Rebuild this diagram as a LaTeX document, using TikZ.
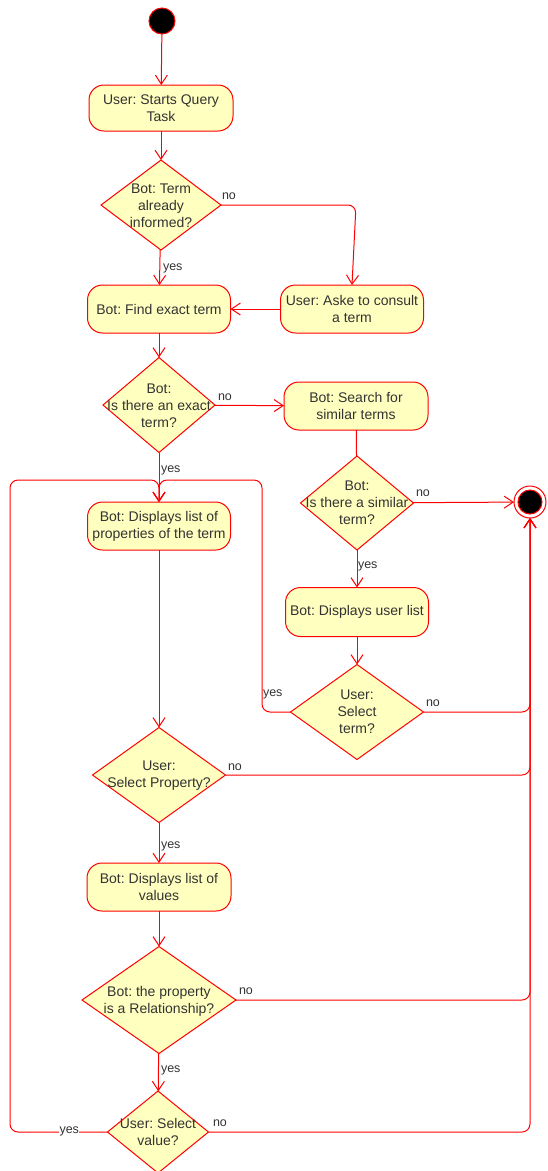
\documentclass[tikz,border=0pt]{standalone}
\usepackage{fontspec}
\setmainfont{Liberation Sans}
\usetikzlibrary{shapes.geometric,arrows.meta}
\definecolor{actfill}{HTML}{FFFFC0}
\definecolor{actline}{HTML}{FF0000}
\definecolor{ink}{HTML}{333333}
\frenchspacing

\begin{document}
\begin{tikzpicture}[x=1pt,y=-1pt,
  every node/.style={inner sep=0pt, outer sep=0pt},
  txt/.style={align=center, text=ink, font=\fontsize{14}{16.8}\selectfont},
  action/.style={txt, draw=actline, fill=actfill, line width=1pt,
    rounded corners=15pt, minimum width=144pt, minimum height=48pt},
  decision/.style={diamond, draw=actline, fill=actfill, line width=1pt},
  initial/.style={circle, draw=actline, fill=black, line width=1pt, minimum size=26pt},
  flow/.style={draw=actline, line width=1pt, rounded corners=8pt,
    -{Straight Barb[length=9pt,width=12pt,line width=1pt]}},
  link/.style={draw=actline, line width=1pt},
  guard/.style={text=ink, font=\fontsize{12.5}{15}\selectfont, anchor=west}]

\useasboundingbox (0,0) rectangle (548,1171);

% start and end states
\node[initial] (start) at (162,21) {};
\node[circle, draw=actline, fill=white, line width=1pt, minimum size=32pt] (end) at (530,502) {};
\node[circle, draw=actline, fill=black, line width=1pt, minimum size=24pt] (endin) at (end) {};

% actions
\node[action, minimum height=46pt] (startq) at (161,108) {User: Starts Query\\Task};
\node[action, minimum width=143pt] (find) at (159,309) {Bot: Find exact term};
\node[action, minimum width=143pt] (ask) at (352,309) {User: Aske to consult\\a term};
\node[action] (search) at (356,406) {Bot: Search for\\similar terms};
\node[action, minimum width=143pt] (props) at (159,526) {Bot: Displays list of\\properties of the term};
\node[action, minimum width=143pt, minimum height=49pt] (ulist) at (357,612) {Bot: Displays user list};
\node[action] (values) at (159,887) {Bot: Displays list of\\values};

% decisions (shape, then its text)
\node[decision, minimum width=120pt, minimum height=90pt] (informed) at (161,205) {};
\node[txt] (informedT) at (161,206) {Bot: Term\\already\\informed?};
\node[decision, minimum width=112pt, minimum height=95pt] (exact) at (159,405) {};
\node[txt] (exactT) at (159,406) {Bot:\\Is there an exact\\term?};
\node[decision, minimum width=113pt, minimum height=94pt] (similar) at (357,503) {};
\node[txt] (similarT) at (357,503) {Bot:\\Is there a similar\\term?};
\node[decision, minimum width=133pt, minimum height=95pt] (selterm) at (357,712) {};
\node[txt] (seltermT) at (357,712) {User:\\Select\\term?};
\node[decision, minimum width=133pt, minimum height=95pt] (selprop) at (159,775) {};
\node[txt] (selpropT) at (159,776) {User:\\Select Property?};
\node[decision, minimum width=154pt, minimum height=107pt] (relation) at (159,1000) {};
\node[txt] (relationT) at (159,1001) {Bot: the property\\is a Relationship?};
\node[decision, minimum width=101pt, minimum height=82pt] (selval) at (158,1132) {};
\node[txt] (selvalT) at (158,1132) {User: Select\\value?};

% main flow
\draw[flow] (start) -- (startq);
\draw[flow] (startq) -- (informed);
\draw[flow] (informed) -- (find);
\draw[flow] (informed.east) -- (356,205) -- (ask.north);
\draw[flow] (ask) -- (find);
\draw[flow] (find) -- (exact);
\draw[flow] (exact) -- (search);
\draw[link] (search) -- (similar);
\draw[flow] (similar) -- (end);
\draw[flow] (similar) -- (ulist);
\draw[flow] (ulist) -- (selterm);
\draw[flow] (exact) -- (props);
\draw[flow] (props) -- (selprop);
\draw[flow] (selprop) -- (values);
\draw[flow] (values) -- (relation);
\draw[flow] (relation) -- (selval);

% loops back to the property list
\draw[flow] (selterm.west) -- (262,712) -- (262,480) -- (159,480) -- (props.north);
\draw[flow] (selval.west) -- (10,1132) -- (10,480) -- (159,480) -- (props.north);

% "no" branches into the final state
\draw[flow] (selterm.east) -- (530,712) -- (end.south);
\draw[flow] (selprop.east) -- (530,775) -- (end.south);
\draw[flow] (relation.east) -- (530,1000) -- (end.south);
\draw[flow] (selval.east) -- (530,1132) -- (end.south);

% guards
\node[guard] (g1) at (163,268) {yes};
\node[guard] (g2) at (222,196) {no};
\node[guard] (g3) at (218,397) {no};
\node[guard] (g4) at (161,470) {yes};
\node[guard] (g5) at (416,493) {no};
\node[guard] (g6) at (358,566) {yes};
\node[guard] (g7) at (263,694) {yes};
\node[guard] (g8) at (426,703) {no};
\node[guard] (g9) at (228,767) {no};
\node[guard] (g10) at (161,846) {yes};
\node[guard] (g11) at (239,991) {no};
\node[guard] (g12) at (161,1070) {yes};
\node[guard] (g13) at (213,1123) {no};
\node[guard, fill=white, inner sep=0.5pt] (g14) at (59,1131) {yes};
\end{tikzpicture}
\end{document}
